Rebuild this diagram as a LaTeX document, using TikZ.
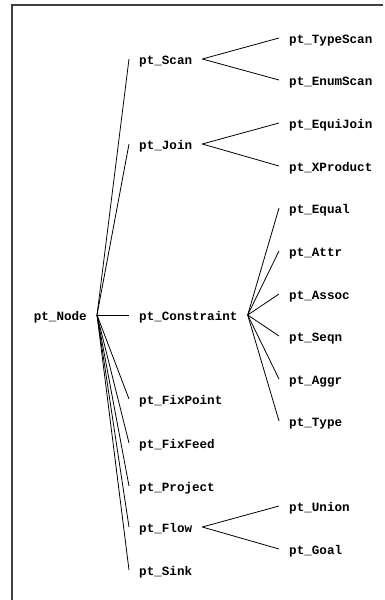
\documentclass[tikz,border=0pt]{standalone}
\usepackage{fontspec}
\setmonofont{Liberation Mono}
\begin{document}
\begin{tikzpicture}[x=1pt,y=-1pt,
 lbl/.style={font=\ttfamily\bfseries\fontsize{12.6}{14}\selectfont, inner xsep=10pt, inner ysep=0pt, text height=10pt, text depth=0pt},
 l1/.style={lbl, anchor=west},
 edge/.style={line width=0.8pt, black}]
\useasboundingbox (0,0) rectangle (385,600);
\draw[line width=1.2pt, black!75] (383,5) -- (12,5) -- (12,600);
% root
\node[lbl, anchor=east] (node) at (97,315) {pt\_Node};
% level 1
\node[l1] (scan) at (129,59) {pt\_Scan};
\node[l1] (join) at (129,144) {pt\_Join};
\node[l1] (constraint) at (129,315) {pt\_Constraint};
\node[l1] (fixpoint) at (129,399) {pt\_FixPoint};
\node[l1] (fixfeed) at (129,443) {pt\_FixFeed};
\node[l1] (project) at (129,486) {pt\_Project};
\node[l1] (flow) at (129,527) {pt\_Flow};
\node[l1] (sink) at (129,570) {pt\_Sink};
% level 2
\node[l1] (typescan) at (279,38) {pt\_TypeScan};
\node[l1] (enumscan) at (279,80) {pt\_EnumScan};
\node[l1] (equijoin) at (279,123) {pt\_EquiJoin};
\node[l1] (xproduct) at (279,166) {pt\_XProduct};
\node[l1] (equal) at (279,208) {pt\_Equal};
\node[l1] (attr) at (279,251) {pt\_Attr};
\node[l1] (assoc) at (279,294) {pt\_Assoc};
\node[l1] (seqn) at (279,336) {pt\_Seqn};
\node[l1] (aggr) at (279,379) {pt\_Aggr};
\node[l1] (type) at (279,421) {pt\_Type};
\node[l1] (union) at (279,506) {pt\_Union};
\node[l1] (goal) at (279,549) {pt\_Goal};
% edges
\foreach \c in {scan,join,constraint,fixpoint,fixfeed,project,flow,sink}
  \draw[edge] (node.east) -- (\c.west);
\foreach \c in {typescan,enumscan} \draw[edge] (scan.east) -- (\c.west);
\foreach \c in {equijoin,xproduct} \draw[edge] (join.east) -- (\c.west);
\foreach \c in {equal,attr,assoc,seqn,aggr,type} \draw[edge] (constraint.east) -- (\c.west);
\foreach \c in {union,goal} \draw[edge] (flow.east) -- (\c.west);
\end{tikzpicture}
\end{document}
